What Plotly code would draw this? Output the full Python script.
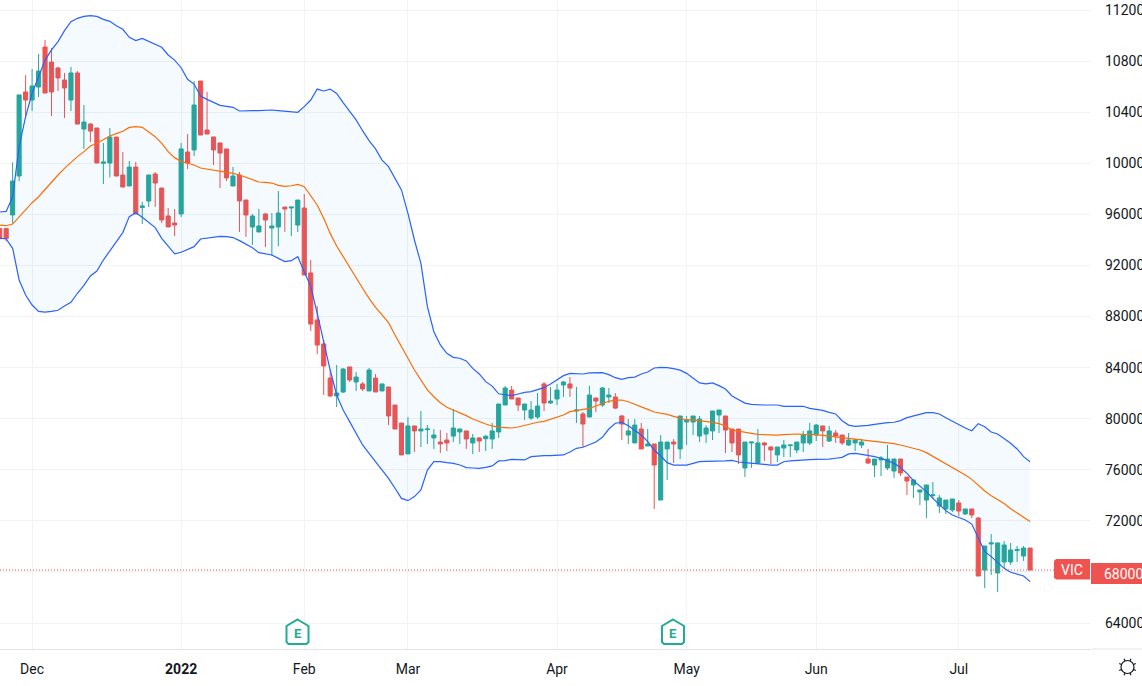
import math
import plotly.graph_objects as go

# Daily OHLC values for VIC
opens = [94900,94900,95950,99000,105580,104950,105970,109100,107920,107460,
 106520,104950,107070,102680,103070,102760,100000,100020,102050,99080,
 98220,99700,96540,97040,99160,98060,95870,95320,96030,100880,
 101040,106440,102600,102060,101590,101120,98220,99080,97120,95010,
 94620,96030,94930,95010,96570,96500,95160,96500,91410,87730,
 85850,83180,81780,82090,84050,82870,82720,82170,83180,82170,
 82480,81070,79660,77240,79430,79040,79140,78490,78170,78330,
 78640,78960,79040,78100,78490,78430,78410,78960,81070,82240,
 81620,80680,80050,80130,82720,81230,81540,82640,82720,80600,
 80370,80130,81620,81070,81700,81700,80210,78720,78100,79190,
 77860,78020,73630,77630,78170,77630,79740,79740,78640,78800,
 79040,80290,80210,79190,79190,76140,78100,76530,78100,77780,
 77160,77700,77890,77550,78100,78100,78720,79430,78250,78880,
 78720,77940,78100,77940,76840,76370,76770,76140,75900,76840,
 75430,74810,74260,73630,73990,73160,72930,72850,73400,72540,
 72930,72220,68150,70190,67920,68780,68780,69680,69250,69870]
highs = [94900,94900,100070,105350,106900,107380,108550,109650,109030,107540,
 107070,107540,107220,104560,103150,102760,101590,102760,102050,100880,
 100180,100100,96970,99080,99310,98060,96500,96420,101590,102290,
 106440,106440,105580,102060,101590,101120,99710,99310,97120,96030,
 96420,96100,96100,97830,96570,96570,97120,97590,92430,88820,
 86160,83810,84200,83970,84050,83650,82870,83970,83500,82720,
 82480,81070,79660,80130,79430,80600,79500,79190,79110,78880,
 80760,79190,79040,78800,78560,78720,79660,81150,82560,82560,
 81620,81150,81380,82010,82870,82480,82720,82950,83260,82480,
 80520,82560,81620,82480,82400,82010,80290,79970,79970,79660,
 79190,78020,78720,78170,78410,80210,80210,80210,80210,79500,
 80600,80680,80210,79190,79190,78170,78170,79190,78170,77860,
 77780,78330,77940,78170,79040,79660,79580,79430,79430,79110,
 78720,78880,78410,78410,77630,76840,77080,77940,76840,76840,
 75430,75280,74420,74810,75040,74020,73630,73710,73630,72930,
 72930,72300,70030,70970,70270,70420,70270,70030,70030,69870]
lows = [94000,93900,95300,98600,103540,104100,105190,105500,103700,105660,
 103540,104090,103070,101120,101660,100020,98370,98900,99000,98140,
 98220,96030,95240,96580,96580,95320,95010,94300,95790,99550,
 100570,102210,102290,99860,98060,98610,98220,94620,94230,93600,
 94620,93440,92740,93520,94620,94300,94620,91250,86860,85060,
 81860,81700,80910,82010,82870,82170,82170,82170,82090,82170,
 79500,79190,77160,77240,77390,77780,78020,77630,77310,77470,
 78170,78020,77630,77230,77390,77470,77630,78490,81070,81540,
 80600,79900,79900,79980,80600,81150,81070,81700,81700,79660,
 77780,80130,80520,80910,81230,80760,78330,78020,78100,77630,
 77860,72930,73630,75200,76530,76840,77940,78720,78180,78100,
 78330,78880,77310,77390,76450,75430,76140,76450,76690,76450,
 76610,77000,77000,77310,77390,77940,78250,77780,78180,78100,
 77940,77860,77470,77700,76450,75430,75510,75980,75360,75510,
 74020,73790,73240,72220,73710,72610,72540,72690,72380,72460,
 72220,67680,66740,67760,66430,68310,68540,68780,68860,68150]
closes = [94100,94100,98610,105350,104950,106050,107220,105500,105580,106680,
 105890,107070,103070,103230,102520,100020,100100,102050,99000,98140,
 99700,96030,96660,99080,98450,95560,95010,95160,101120,100020,
 104560,102210,102290,101040,100800,98850,99000,97050,95950,95870,
 95090,95560,95090,96100,96420,96570,97120,91250,87410,85770,
 84130,81780,82010,83890,83030,83260,82330,83810,82090,82720,
 80210,79190,77160,79430,79040,79190,79190,78720,78020,78100,
 79270,79190,78410,78490,78250,78620,79040,81150,82400,81540,
 81070,81150,80680,80990,81230,81380,82240,82870,82400,80680,
 79580,81850,81380,82400,81850,80830,79580,79040,79500,77630,
 78020,76370,78170,78170,78020,80210,79900,80210,79970,79270,
 80600,80680,79110,78100,77160,78170,78170,78100,77940,77550,
 77780,77940,77940,78170,78720,79040,79500,79040,79040,78640,
 78100,78330,78330,78170,76530,76840,76920,76840,76840,75750,
 75120,75200,74420,74810,74030,73790,73630,73710,72770,72930,
 72460,67680,70030,70270,70270,70110,69720,69760,69870,68150]

# Bollinger bands
bb_upper = [96180,96230,97380,101300,103650,105480,106780,108080,108870,109520,
 110380,111090,111350,111500,111560,111500,111270,111110,110770,110490,
 109860,109600,109780,109550,109290,109080,108480,108080,107480,106570,
 106200,105270,105000,104740,104530,104460,104380,104090,104120,104120,
 104120,104170,104170,104120,104090,104040,103990,104430,104950,105810,
 105660,105810,105470,104750,104040,103390,102550,101770,101120,100250,
 99730,98820,97910,96080,93990,92160,88770,86810,85770,85120,
 84800,84730,84520,83940,83500,82900,82550,81950,81900,81800,
 81930,82060,82115,82245,82430,82720,83030,83370,83550,83500,
 83500,83580,83600,83600,83450,83210,83080,83210,83260,83500,
 83650,83970,84020,84000,83920,83800,83550,83200,82800,82720,
 82800,82590,82320,81780,81520,81220,81120,81070,81070,81070,
 81070,80970,80970,80970,80970,80810,80730,80650,80500,80370,
 79840,79500,79400,79420,79480,79560,79640,79690,79720,79850,
 80080,80210,80390,80470,80470,80370,80080,79790,79530,79270,
 79060,79610,79370,78960,78800,78460,78070,77630,77030,76630]
bb_middle = [95165,95110,95240,95820,96340,96910,97380,97960,98560,99080,
 99600,100070,100520,100910,101350,101560,101850,102130,102320,102500,
 102810,102870,102810,102470,102080,101560,100910,100440,100150,100000,
 99860,99630,99550,99470,99390,99310,99210,99080,98900,98770,
 98530,98500,98450,98270,98190,98240,98350,98170,97440,96730,
 95690,94510,93520,92680,91800,91000,90210,89420,88720,88120,
 87520,86550,85590,84730,83810,83030,82250,81720,81250,80890,
 80680,80500,80240,79980,79770,79580,79430,79330,79300,79270,
 79350,79480,79640,79720,79790,79950,80100,80290,80550,80630,
 80680,80810,80990,81200,81360,81460,81460,81330,81150,80940,
 80730,80520,80450,80340,80180,80030,79900,79900,79850,79790,
 79710,79610,79430,79110,79010,78905,78850,78770,78750,78720,
 78720,78750,78800,78800,78770,78770,78750,78700,78640,78590,
 78510,78460,78380,78330,78280,78230,78170,78120,78040,77940,
 77810,77680,77550,77340,77050,76770,76500,76190,75900,75590,
 75250,74755,74340,73970,73690,73350,72950,72610,72280,71940]
bb_lower = [94150,94070,93340,90860,89680,88900,88400,88350,88400,88490,
 88820,89110,89820,90440,91170,91560,92420,93130,93860,94570,
 95820,96130,95770,95350,94960,94120,93470,92900,93030,93260,
 93470,94070,94150,94230,94280,94250,94180,93940,93650,93390,
 93000,92900,92820,92550,92300,92370,92680,91510,90340,88250,
 85900,83810,81860,80680,79770,78850,77940,77290,76640,75980,
 75330,74550,73760,73580,73900,74420,75980,76640,76640,76560,
 76500,76370,76170,76140,76110,76190,76300,76690,76710,76820,
 76790,76770,77030,77080,77100,77100,77130,77160,77390,77680,
 77760,77940,78170,78540,79190,79640,79710,79450,79110,78720,
 78200,77550,77080,76560,76370,76370,76370,76500,76630,76660,
 76660,76660,76690,76740,76610,76560,76500,76450,76400,76370,
 76370,76630,76690,76740,76770,76790,76820,76820,76840,76900,
 76970,77240,77290,77210,77130,77030,76900,76710,76500,76170,
 75720,75150,74730,74290,73760,73240,72800,72460,72280,72070,
 71750,70630,69590,69200,68730,68280,67970,67810,67680,67240]

bars = list(range(len(opens)))
month_bars = [5, 28, 47, 63, 86, 106, 126, 148]
month_labels = ["Dec", "<b>2022</b>", "Feb", "Mar", "Apr", "May", "Jun", "Jul"]
price_ticks = list(range(64000, 112001, 4000))
earnings_px = [297.5, 673]

W, H = 1142, 686
PL, PR, PT, PB = 0, 1091, 0, 649
INK = "#131722"
UP, DOWN = "#26a69a", "#ef5350"
BLUE, ORANGE = "#2962ff", "#ff6d00"
GRID = "#f1f3f6"
BORDER = "#e0e3eb"
FONT = "Roboto"

def px(x):
    return (x - PL) / (PR - PL)
def py(y):
    return 1 - (y - PT) / (PB - PT)
def path(points, close=True):
    s = " ".join(("M" if k == 0 else "L") + f" {px(a):.5f} {py(b):.5f}" for k, (a, b) in enumerate(points))
    return s + (" Z" if close else "")

fig = go.Figure()
fig.add_trace(go.Scatter(x=bars, y=bb_lower, mode="lines", line=dict(color=BLUE, width=1.2), hoverinfo="skip"))
fig.add_trace(go.Scatter(x=bars, y=bb_upper, mode="lines", line=dict(color=BLUE, width=1.2), hoverinfo="skip",
                         fill="tonexty", fillcolor="rgba(33,150,243,0.05)"))
fig.add_trace(go.Candlestick(
    x=bars, open=opens, high=highs, low=lows, close=closes, whiskerwidth=0,
    increasing=dict(line=dict(color=UP, width=1), fillcolor=UP),
    decreasing=dict(line=dict(color=DOWN, width=1), fillcolor=DOWN)))
fig.add_trace(go.Scatter(x=bars, y=bb_middle, mode="lines", line=dict(color=ORANGE, width=1.2), hoverinfo="skip"))

shapes = [
    dict(type="line", xref="paper", yref="y", x0=0, x1=1, y0=closes[-1], y1=closes[-1],
         line=dict(color=DOWN, width=1, dash="1px,2px"), layer="above"),
    dict(type="line", xref="paper", yref="paper", x0=px(1092), x1=px(1142), y0=0, y1=0,
         line=dict(color=BORDER, width=1)),
    # VIC tag
    dict(type="path", xref="paper", yref="paper", fillcolor=DOWN, line=dict(width=0), layer="above",
         path=path([(1056, 559), (1090, 559), (1090, 579.5), (1056, 579.5), (1054, 577.5), (1054, 561)])),
    # last-price tag
    dict(type="rect", xref="paper", yref="paper", fillcolor=DOWN, line=dict(width=0), layer="above",
         x0=px(1091), x1=px(1142), y0=py(584), y1=py(563)),
]
annotations = [
    dict(xref="paper", yref="paper", x=px(1071.5), y=py(569.5), text="VIC", showarrow=False,
         font=dict(family=FONT, size=14, color="white"), xanchor="center", yanchor="middle"),
    dict(xref="paper", yref="paper", x=px(1104), y=py(573.5), text="68000", showarrow=False,
         font=dict(family=FONT, size=14, color="white"), xanchor="left", yanchor="middle", xshift=-2),
]
# Earnings badges
for cx in earnings_px:
    shapes.append(dict(type="path", xref="paper", yref="paper", fillcolor="white", layer="above",
                       line=dict(color="#22ab94", width=2),
                       path=path([(cx, 619.5), (cx + 11, 626), (cx + 11, 642), (cx + 9, 644), (cx - 9, 644),
                                  (cx - 11, 642), (cx - 11, 626)])))
    annotations.append(dict(xref="paper", yref="paper", x=px(cx), y=py(633), text="<b>E</b>", showarrow=False,
                            font=dict(family=FONT, size=13, color="#22ab94"), xanchor="center", yanchor="middle"))
# Settings gear
gx, gy = 1127.5, 667
shapes.append(dict(type="circle", xref="paper", yref="paper", line=dict(color=INK, width=1.2), layer="above",
                   x0=px(gx - 6.5), x1=px(gx + 6.5), y0=py(gy + 6.5), y1=py(gy - 6.5)))
for k in range(8):
    ang = math.pi / 8 + k * math.pi / 4
    shapes.append(dict(type="path", xref="paper", yref="paper", line=dict(color=INK, width=1.2), layer="above",
                       path=path([(gx + 6.5 * math.cos(ang), gy + 6.5 * math.sin(ang)),
                                  (gx + 9 * math.cos(ang), gy + 9 * math.sin(ang))], close=False)))

fig.update_layout(
    width=W, height=H, margin=dict(l=PL, r=W - PR, t=PT, b=H - PB, autoexpand=False),
    paper_bgcolor="white", plot_bgcolor="white", showlegend=False, hovermode=False,
    boxgap=0.33, boxgroupgap=0.05,
    shapes=shapes, annotations=annotations,
    font=dict(family=FONT, size=14, color=INK),
    xaxis=dict(range=[0.05, 168.4], tickmode="array", tickvals=month_bars, ticktext=month_labels,
               showgrid=True, gridcolor=GRID, gridwidth=1, zeroline=False, showline=True, linecolor=BORDER,
               linewidth=1, ticks="", ticklabelstandoff=7, rangeslider=dict(visible=False),
               tickfont=dict(family=FONT, size=14, color=INK)),
    yaxis=dict(range=[61966, 112783], side="right", tickmode="array", tickvals=price_ticks,
               ticktext=[str(v) for v in price_ticks], showgrid=True, gridcolor=GRID, gridwidth=1,
               zeroline=False, showline=False, ticks="", ticklabelstandoff=13,
               tickfont=dict(family=FONT, size=14, color=INK)),
)
fig.write_html("out.html", config={"displayModeBar": False},
               post_script="document.body.style.margin='0';document.body.style.overflow='hidden';")
